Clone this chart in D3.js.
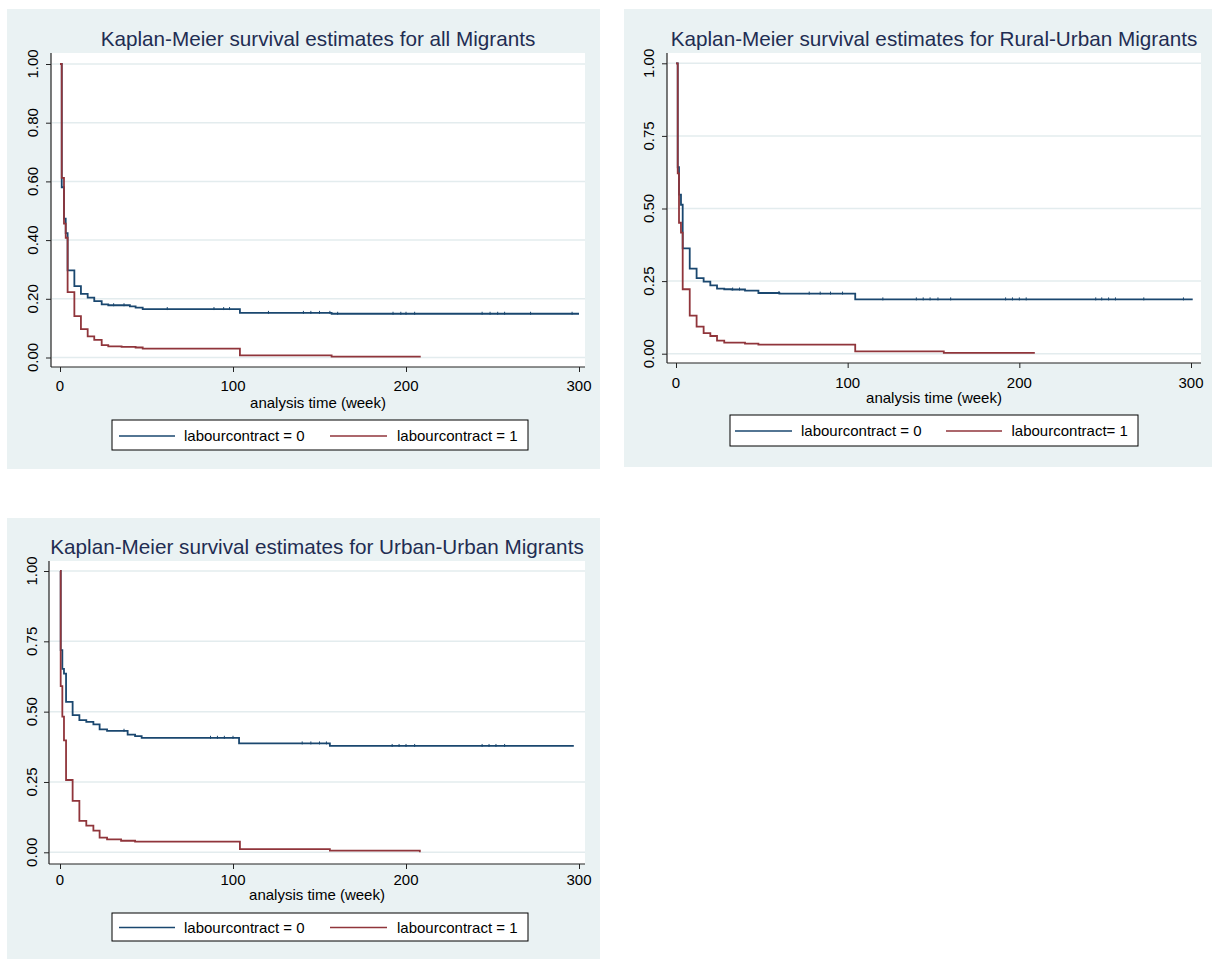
<!DOCTYPE html>
<meta charset="utf-8">
<head>
    <title>Kaplan-Meier survival estimates</title>
    <style>
        body { margin: 0; background: #ffffff; }
        svg text { font-family: "Liberation Sans", Arial, sans-serif; }
    </style>
</head>
<body>
<script src="https://cdn.jsdelivr.net/npm/d3@7"></script>
<script>

    // ---- data (weeks, survival) ----
    var xTicks = [0, 100, 200, 300];
    var yTicksAll = [0, 0.2, 0.4, 0.6, 0.8, 1.0];
    var yTicksSub = [0, 0.25, 0.5, 0.75, 1.0];

    var legendLabels = ["labourcontract = 0", "labourcontract = 1"];
    var legendLabelsRU = ["labourcontract = 0", "labourcontract= 1"];

    // all migrants
    var allTime0 = [0, 1, 2.3, 3.3, 4.4, 8.3, 12.1, 16, 19.8, 24.1, 27.9, 40.4, 43.7, 47.8, 104, 157];
    var allSurv0 = [1, 0.58, 0.473, 0.424, 0.297, 0.243, 0.217, 0.204, 0.192, 0.181, 0.178, 0.174, 0.170, 0.165, 0.152, 0.149];
    var allEnd0 = 300;
    var allTime1 = [0, 1, 2.3, 3.3, 4.4, 8.3, 12.1, 16, 19.8, 24.1, 27.9, 35.6, 43.7, 47.8, 104, 157, 208];
    var allSurv1 = [1, 0.612, 0.456, 0.408, 0.223, 0.141, 0.097, 0.072, 0.060, 0.042, 0.038, 0.036, 0.034, 0.030, 0.007, 0.003, 0];
    var allCens0 = [31, 37, 62, 89, 94.6, 98, 120.5, 140.7, 145, 150, 156, 160.5, 192.5, 197, 200, 205, 244, 248.6, 253, 257, 272, 296];

    // rural-urban migrants
    var ruTime0 = [0, 1, 1.75, 2.9, 3.9, 8, 12, 16.1, 20, 23.9, 28.1, 32.4, 40.2, 48, 60.2, 104.4];
    var ruSurv0 = [1, 0.642, 0.548, 0.513, 0.363, 0.293, 0.260, 0.248, 0.235, 0.224, 0.222, 0.221, 0.217, 0.209, 0.207, 0.187];
    var ruEnd0 = 301;
    var ruTime1 = [0, 1, 1.75, 2.9, 3.9, 8, 12, 16.1, 20, 23.9, 28.1, 40.2, 48, 104.4, 156, 208.5];
    var ruSurv1 = [1, 0.621, 0.451, 0.417, 0.222, 0.131, 0.093, 0.071, 0.061, 0.045, 0.038, 0.035, 0.031, 0.008, 0.003, 0];
    var ruCens0 = [33, 37, 60, 77.6, 84, 90, 97, 120.5, 140, 144, 148, 152.6, 160, 192, 196, 200, 204, 244.5, 248, 252, 256, 272.5, 295.6];

    // urban-urban migrants
    var uuTime0 = [0, 0.4, 1.35, 2.3, 3.5, 7.3, 11.2, 15.2, 19.3, 22.9, 27.2, 39.1, 43.4, 47.2, 103.5, 156];
    var uuSurv0 = [1, 0.719, 0.652, 0.635, 0.535, 0.488, 0.470, 0.464, 0.455, 0.437, 0.432, 0.418, 0.413, 0.407, 0.387, 0.378];
    var uuEnd0 = 297;
    var uuTime1 = [0, 0.4, 1.35, 2.3, 3.5, 7.3, 11.2, 15.2, 19.3, 22.9, 27.2, 35.3, 43.4, 104, 156, 208];
    var uuSurv1 = [1, 0.591, 0.482, 0.398, 0.257, 0.183, 0.112, 0.095, 0.077, 0.052, 0.046, 0.041, 0.038, 0.011, 0.006, 0];
    var uuCens0 = [37, 87, 91, 95, 100, 140, 145, 150, 154, 192, 196, 200, 205, 244, 248, 252, 257];

    // stata s2color-ish
    var navy = "#1a476f",
        maroon = "#90353b",
        bgColor = "#eaf2f3",
        gridColor = "#e3ecee",
        titleColor = "#1f2d52";

    var svg = d3.select("body")
        .append("svg")
        .attr("width", 1213)
        .attr("height", 959);

    var panels = [
        {
            title: "Kaplan-Meier survival estimates for all Migrants",
            bg: { x: 7, y: 9, w: 593, h: 460 },
            plot: { left: 51, top: 53, right: 585, bottom: 367 },
            xr: [60, 579], yr: [357.5, 64],
            titleY: 46, yLabX: 33, tickY: 391, axTitleY: 408,
            legend: { x: 112, y: 420, w: 416, h: 30, l1: [119, 175], t1: 184, l2: [330, 387], t2: 397, cy: 436 },
            labels: legendLabels,
            yTicks: yTicksAll,
            s0: { t: allTime0, s: allSurv0, end: allEnd0, cens: allCens0 },
            s1: { t: allTime1, s: allSurv1 }
        },
        {
            title: "Kaplan-Meier survival estimates for Rural-Urban Migrants",
            bg: { x: 624, y: 9, w: 588, h: 458 },
            plot: { left: 667, top: 53, right: 1201, bottom: 363 },
            xr: [676, 1191], yr: [353.7, 63.3],
            titleY: 46, yLabX: 649, tickY: 388, axTitleY: 403,
            legend: { x: 730, y: 415, w: 408, h: 31, l1: [735, 792], t1: 801, l2: [946, 1002], t2: 1011.5, cy: 431 },
            labels: legendLabelsRU,
            yTicks: yTicksSub,
            s0: { t: ruTime0, s: ruSurv0, end: ruEnd0, cens: ruCens0 },
            s1: { t: ruTime1, s: ruSurv1 }
        },
        {
            title: "Kaplan-Meier survival estimates for Urban-Urban Migrants",
            bg: { x: 7, y: 518, w: 593, h: 441 },
            plot: { left: 49, top: 561, right: 585, bottom: 864 },
            xr: [60, 579], yr: [852.3, 571],
            titleY: 554, yLabX: 32, tickY: 885, axTitleY: 900,
            legend: { x: 112, y: 913, w: 416, h: 28, l1: [119, 175], t1: 184, l2: [330, 387], t2: 397, cy: 927.5 },
            labels: legendLabels,
            yTicks: yTicksSub,
            s0: { t: uuTime0, s: uuSurv0, end: uuEnd0, cens: uuCens0 },
            s1: { t: uuTime1, s: uuSurv1 }
        }
    ];

    panels.forEach(drawPanel);

    function drawPanel(p) {
        var g = svg.append("g");

        g.append("rect")
            .attr("x", p.bg.x).attr("y", p.bg.y)
            .attr("width", p.bg.w).attr("height", p.bg.h)
            .attr("fill", bgColor);

        g.append("rect")
            .attr("x", p.plot.left).attr("y", p.plot.top)
            .attr("width", p.plot.right - p.plot.left)
            .attr("height", p.plot.bottom - p.plot.top)
            .attr("fill", "#ffffff");

        var x = d3.scaleLinear().domain([0, 300]).range(p.xr);
        var y = d3.scaleLinear().domain([0, 1]).range(p.yr);

        // gridlines
        g.append("g").selectAll("line")
            .data(p.yTicks)
            .enter().append("line")
            .attr("x1", p.plot.left + 1).attr("x2", p.plot.right)
            .attr("y1", function(d) { return y(d); })
            .attr("y2", function(d) { return y(d); })
            .attr("stroke", gridColor)
            .attr("stroke-width", 1.5);

        // y axis
        var yAxis = d3.axisLeft(y)
            .tickValues(p.yTicks)
            .tickFormat(d3.format(".2f"))
            .tickSize(5)
            .tickPadding(0);
        var ya = g.append("g")
            .attr("transform", "translate(" + p.plot.left + ",0)")
            .call(yAxis);
        ya.select(".domain").remove();
        ya.selectAll("text").remove();
        ya.selectAll("line").attr("stroke", "#222");
        g.append("line")
            .attr("x1", p.plot.left).attr("x2", p.plot.left)
            .attr("y1", p.plot.top).attr("y2", p.plot.bottom)
            .attr("stroke", "#222").attr("stroke-width", 1.2);

        g.append("g").selectAll("text")
            .data(p.yTicks)
            .enter().append("text")
            .attr("transform", function(d) { return "translate(" + p.yLabX + "," + y(d) + ") rotate(-90)"; })
            .attr("dy", "0.35em")
            .attr("text-anchor", "middle")
            .style("font-size", "15px")
            .attr("fill", "#000")
            .text(function(d) { return d3.format(".2f")(d); });

        // x axis
        var xAxis = d3.axisBottom(x)
            .tickValues(xTicks)
            .tickSize(5)
            .tickFormat("");
        var xa = g.append("g")
            .attr("transform", "translate(0," + p.plot.bottom + ")")
            .call(xAxis);
        xa.select(".domain").remove();
        xa.selectAll("line").attr("stroke", "#222");
        g.append("line")
            .attr("x1", p.plot.left).attr("x2", p.plot.right)
            .attr("y1", p.plot.bottom).attr("y2", p.plot.bottom)
            .attr("stroke", "#222").attr("stroke-width", 1.2);

        g.append("g").selectAll("text")
            .data(xTicks)
            .enter().append("text")
            .attr("x", function(d) { return x(d); })
            .attr("y", p.tickY)
            .attr("text-anchor", "middle")
            .style("font-size", "15px")
            .attr("fill", "#000")
            .text(function(d) { return d; });

        g.append("text")
            .attr("x", (p.plot.left + p.plot.right) / 2)
            .attr("y", p.axTitleY)
            .attr("text-anchor", "middle")
            .style("font-size", "15px")
            .attr("fill", "#000")
            .text("analysis time (week)");

        // title
        g.append("text")
            .attr("x", (p.plot.left + p.plot.right) / 2)
            .attr("y", p.titleY)
            .attr("text-anchor", "middle")
            .style("font-size", "20.7px")
            .attr("fill", titleColor)
            .text(p.title);

        // survival step curves
        var line = d3.line()
            .x(function(d) { return x(d[0]); })
            .y(function(d) { return y(d[1]); })
            .curve(d3.curveStepAfter);

        var pts0 = p.s0.t.map(function(t, i) { return [t, p.s0.s[i]]; });
        pts0.push([p.s0.end, p.s0.s[p.s0.s.length - 1]]);
        var pts1 = p.s1.t.map(function(t, i) { return [t, p.s1.s[i]]; });

        g.append("path")
            .datum(pts0)
            .attr("d", line)
            .attr("fill", "none")
            .attr("stroke", navy)
            .attr("stroke-width", 1.8);

        g.append("path")
            .datum(pts1)
            .attr("d", line)
            .attr("fill", "none")
            .attr("stroke", maroon)
            .attr("stroke-width", 1.8);

        // censoring ticks on group 0
        function survAt(t) {
            var v = p.s0.s[0];
            for (var i = 0; i < p.s0.t.length; i++) {
                if (p.s0.t[i] <= t) v = p.s0.s[i];
            }
            return v;
        }
        g.append("g").selectAll("line")
            .data(p.s0.cens)
            .enter().append("line")
            .attr("x1", function(d) { return x(d); })
            .attr("x2", function(d) { return x(d); })
            .attr("y1", function(d) { return y(survAt(d)) - 2; })
            .attr("y2", function(d) { return y(survAt(d)) + 1; })
            .attr("stroke", navy)
            .attr("stroke-width", 1);

        // legend
        var lg = p.legend;
        g.append("rect")
            .attr("x", lg.x).attr("y", lg.y)
            .attr("width", lg.w).attr("height", lg.h)
            .attr("fill", "#ffffff")
            .attr("stroke", "#000")
            .attr("stroke-width", 1);

        var items = [
            { l: lg.l1, t: lg.t1, c: navy, label: p.labels[0] },
            { l: lg.l2, t: lg.t2, c: maroon, label: p.labels[1] }
        ];
        items.forEach(function(it) {
            g.append("line")
                .attr("x1", it.l[0]).attr("x2", it.l[1])
                .attr("y1", lg.cy).attr("y2", lg.cy)
                .attr("stroke", it.c)
                .attr("stroke-width", 1.6);
            g.append("text")
                .attr("x", it.t)
                .attr("y", lg.cy)
                .attr("dy", "0.35em")
                .style("font-size", "15px")
                .attr("fill", "#000")
                .text(it.label);
        });
    }

</script>
</body>
</html>
